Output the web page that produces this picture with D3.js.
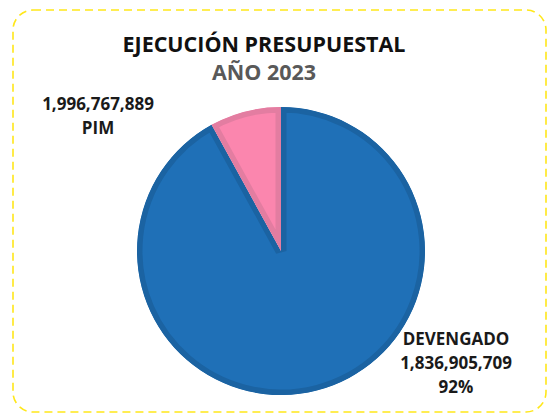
<!DOCTYPE html>
<html lang="es">
<head>
<meta charset="UTF-8">
<title>Ejecución presupuestal 2023</title>
<script src="https://cdn.jsdelivr.net/npm/d3@7"></script>
<style>
  body { margin: 0; background: #fff; }
  svg text { font-family: "Open Sans", "Noto Sans", sans-serif; font-weight: bold; }
</style>
</head>
<body>
<svg id="chart" width="552" height="416"></svg>
<script>
// slices, in the order Excel draws them (clockwise from 12 o'clock)
var categories = ["DEVENGADO", "PIM"];
var sliceValues = [1836905709, 159862180];
var labelValues = ["1,836,905,709", "1,996,767,889"];
var percentLabels = ["92%", ""];
var fills = ["#1f70b7", "#fb86ae"];
var edges = ["#1b63a2", "#e37da1"];

var svg = d3.select("#chart");

svg.append("rect")
    .attr("x", 13).attr("y", 10)
    .attr("width", 533).attr("height", 402)
    .attr("rx", 20).attr("ry", 20)
    .attr("fill", "#fff")
    .attr("stroke", "#ffe71a")
    .attr("stroke-width", 1.6)
    .attr("stroke-dasharray", "8,5");

svg.append("text")
    .attr("x", 264).attr("y", 52)
    .attr("text-anchor", "middle")
    .attr("font-size", 21.5)
    .attr("fill", "#111")
    .text("EJECUCIÓN PRESUPUESTAL");

svg.append("text")
    .attr("x", 264).attr("y", 80)
    .attr("text-anchor", "middle")
    .attr("font-size", 21.5)
    .attr("fill", "#595959")
    .text("AÑO 2023");

var cx = 281, cy = 251, r = 144;
var pie = d3.pie().sort(null);
var arc = d3.arc().innerRadius(0).outerRadius(r);
var arcs = pie(sliceValues);

var g = svg.append("g").attr("transform", "translate(" + cx + "," + cy + ")");
var defs = svg.append("defs");

arcs.forEach(function (d, i) {
    defs.append("clipPath").attr("id", "clip" + i)
        .append("path").attr("d", arc(d));
});

g.selectAll("path.slice")
    .data(arcs)
    .enter().append("path")
    .attr("class", "slice")
    .attr("d", arc)
    .attr("fill", function (d, i) { return fills[i]; })
    .attr("stroke", function (d, i) { return edges[i]; })
    .attr("stroke-width", 11)
    .attr("stroke-linejoin", "miter")
    .attr("clip-path", function (d, i) { return "url(#clip" + i + ")"; });

// data labels
function label(lines, x, y) {
    var t = svg.append("text")
        .attr("text-anchor", "middle")
        .attr("font-size", 17)
        .attr("fill", "#1a1a1a");
    lines.forEach(function (s, k) {
        t.append("tspan").attr("x", x).attr("y", y + k * 24).text(s);
    });
}
label([labelValues[1], categories[1]], 98, 110);
label([categories[0], labelValues[0], percentLabels[0]], 456, 345);
</script>
</body>
</html>
